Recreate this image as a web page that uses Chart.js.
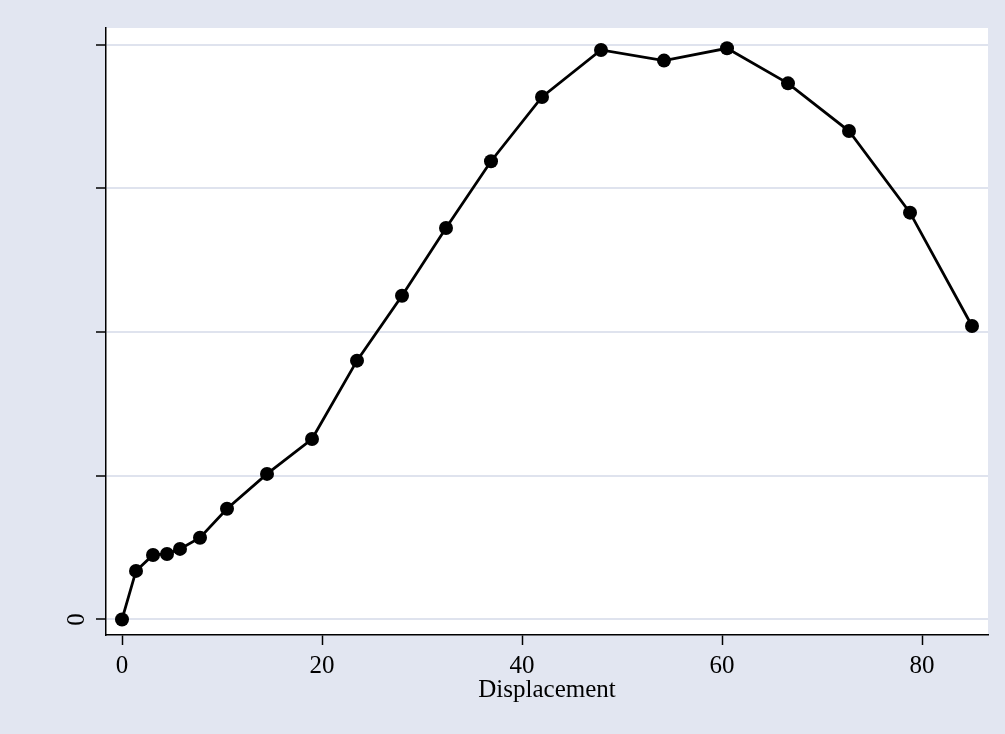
<!DOCTYPE html>
<html>
<head>
<meta charset="utf-8">
<script src="https://cdn.jsdelivr.net/npm/chart.js@4/dist/chart.umd.min.js"></script>
<style>
  html, body { margin: 0; padding: 0; background: #e2e6f1; }
  canvas { display: block; }
</style>
</head>
<body>
<canvas id="c" width="1005" height="734"></canvas>
<script>
// Data
const displacement = [0, 1.4, 3.1, 4.5, 5.8, 7.8, 10.5, 14.5, 19.0, 23.5, 28.0, 32.4, 36.9, 42.0, 47.9, 54.2, 60.5, 66.6, 72.7, 78.8, 85.0];
const values = [0, 0.338, 0.449, 0.456, 0.491, 0.569, 0.771, 1.013, 1.256, 1.801, 2.253, 2.724, 3.189, 3.636, 3.963, 3.889, 3.975, 3.731, 3.399, 2.831, 2.042];
const xTicks = [0, 20, 40, 60, 80];
const xTickLabels = ['0', '20', '40', '60', '80'];
const yTicks = [0, 1, 2, 3, 4];
const yTickLabels = ['0', '', '', '', ''];
const xTitle = 'Displacement';

const BG = '#e2e6f1';
const GRID = '#dfe3ee';
const FONT = 'Liberation Serif';

const bgPlugin = {
  id: 'bg',
  beforeDraw(chart) {
    const ctx = chart.ctx, a = chart.chartArea;
    ctx.save();
    ctx.fillStyle = BG;
    ctx.fillRect(0, 0, chart.width, chart.height);
    ctx.fillStyle = '#ffffff';
    ctx.fillRect(a.left, a.top, a.right - a.left, a.bottom - a.top);
    ctx.restore();
  }
};

new Chart(document.getElementById('c'), {
  type: 'line',
  data: {
    datasets: [{
      data: displacement.map((x, i) => ({ x: x, y: values[i] })),
      borderColor: '#000000',
      backgroundColor: '#000000',
      borderWidth: 2.8,
      pointRadius: 7,
      pointHoverRadius: 7,
      pointBorderWidth: 0,
      pointBackgroundColor: '#000000',
      tension: 0,
      fill: false
    }]
  },
  options: {
    responsive: false,
    animation: false,
    events: [],
    layout: { padding: { left: 0, right: 17, top: 28, bottom: 29 } },
    plugins: { legend: { display: false }, tooltip: { enabled: false } },
    scales: {
      x: {
        type: 'linear',
        min: -1.6,
        max: 86.6,
        afterBuildTicks(scale) { scale.ticks = xTicks.map(v => ({ value: v })); },
        afterFit(scale) { scale.height = 70; },
        ticks: {
          callback(v) { const i = xTicks.indexOf(v); return i >= 0 ? xTickLabels[i] : ''; },
          font: { family: FONT, size: 25 },
          color: '#000000',
          padding: 6,
          maxRotation: 0,
          minRotation: 0
        },
        grid: {
          drawOnChartArea: false,
          color: 'rgba(0,0,0,0)',
          tickColor: '#000000',
          tickLength: 10,
          tickWidth: 1.5
        },
        border: { display: true, color: '#000000', width: 1.5 },
        title: {
          display: true,
          text: xTitle,
          font: { family: FONT, size: 25 },
          color: '#000000',
          padding: 0
        }
      },
      y: {
        type: 'linear',
        min: -0.108,
        max: 4.116,
        afterBuildTicks(scale) { scale.ticks = yTicks.map(v => ({ value: v })); },
        afterFit(scale) { scale.width = 106; },
        ticks: {
          callback(v) { const i = yTicks.indexOf(v); return i >= 0 ? yTickLabels[i] : ''; },
          font: { family: FONT, size: 25 },
          color: '#000000',
          padding: 12,
          minRotation: 90,
          maxRotation: 90,
          crossAlign: 'center'
        },
        grid: {
          color: GRID,
          lineWidth: 2,
          tickColor: '#000000',
          tickLength: 10,
          tickWidth: 1.5
        },
        border: { display: true, color: '#000000', width: 1.5 }
      }
    }
  },
  plugins: [bgPlugin]
});
</script>
</body>
</html>
